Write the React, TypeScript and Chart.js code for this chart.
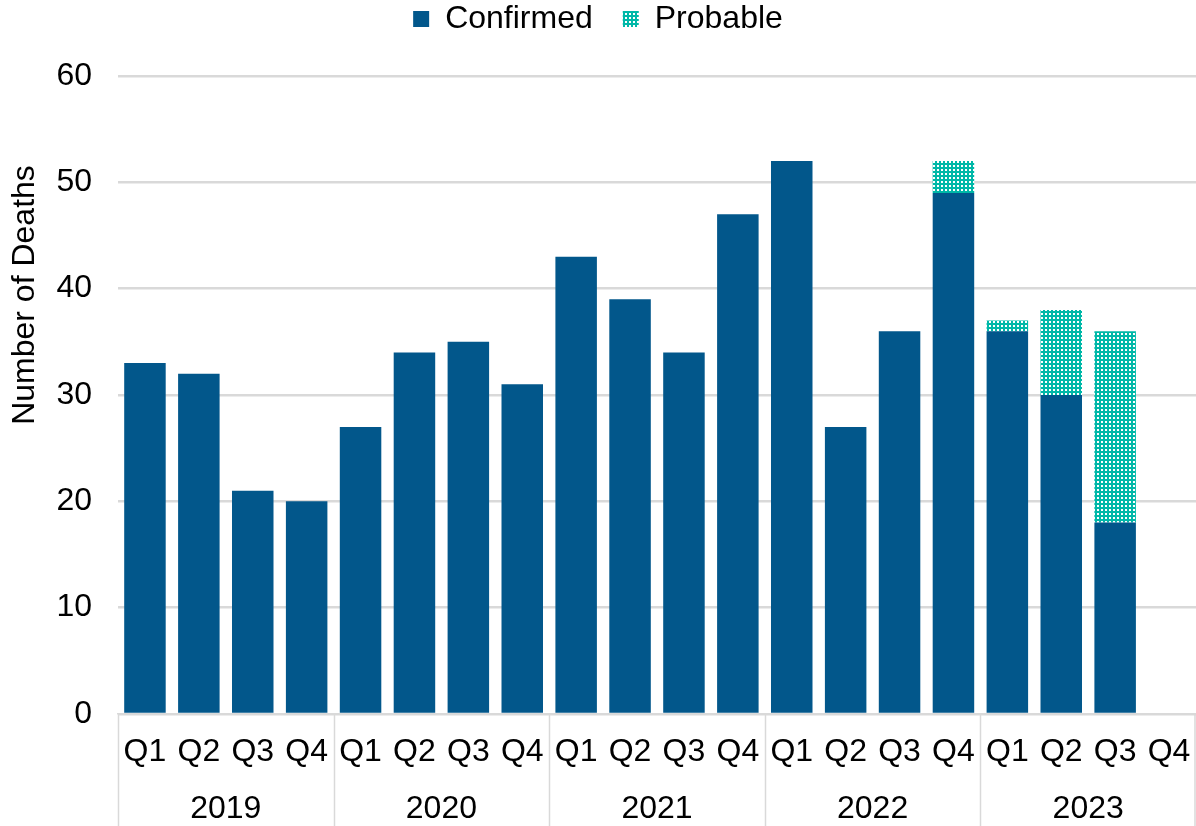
import React, { useEffect, useRef } from "react";
import { Chart, registerables } from "chart.js";

Chart.register(...registerables);

const quarters = ["Q1", "Q2", "Q3", "Q4", "Q1", "Q2", "Q3", "Q4", "Q1", "Q2", "Q3", "Q4", "Q1", "Q2", "Q3", "Q4", "Q1", "Q2", "Q3", "Q4"];
const years = ["2019", "2020", "2021", "2022", "2023"];
const confirmed = [33, 32, 21, 20, 27, 34, 35, 31, 43, 39, 34, 47, 52, 27, 36, 49, 36, 30, 18, null];
const probable = [0, 0, 0, 0, 0, 0, 0, 0, 0, 0, 0, 0, 0, 0, 0, 3, 1, 8, 18, null];
const yTicks = [0, 10, 20, 30, 40, 50, 60];

const FONT = "'Liberation Sans', Arial, sans-serif";
const BLUE = "#02578B";
const TEAL = "#00B8A8";
const GRID = "#D9D9D9";
const FS = 32;
const LEGEND_PAD = 30;

function makePattern(): CanvasPattern | string {
  const c = document.createElement("canvas");
  c.width = 4;
  c.height = 4;
  const ctx = c.getContext("2d");
  if (!ctx) return TEAL;
  ctx.fillStyle = TEAL;
  ctx.fillRect(0, 0, 4, 4);
  ctx.fillStyle = "#FFFFFF";
  ctx.fillRect(1, 1, 2, 2);
  const p = ctx.createPattern(c, "repeat");
  return p || TEAL;
}

const groupPlugin = {
  id: "groupPlugin",
  beforeLayout(chart: any) {
    const lg = chart.legend;
    if (lg && !lg.__patched) {
      const orig = lg.fit.bind(lg);
      lg.fit = () => {
        orig();
        lg.height = 76;
      };
      lg.__patched = true;
    }
  },
  afterLayout(chart: any) {
    const lg = chart.legend;
    if (lg) lg.top = 3 - LEGEND_PAD;
  },
  afterDraw(chart: any) {
    const { ctx, scales, chartArea } = chart;
    const x = scales.x;
    const bottom = chart.height;
    const step = (chartArea.right - chartArea.left) / quarters.length;
    ctx.save();
    ctx.strokeStyle = GRID;
    ctx.lineWidth = 1.5;
    for (let g = 0; g <= years.length; g++) {
      const px = Math.round(chartArea.left + g * 4 * step) + 0.5;
      const xx = Math.min(px, chart.width - 1);
      ctx.beginPath();
      ctx.moveTo(xx, chartArea.bottom);
      ctx.lineTo(xx, bottom);
      ctx.stroke();
    }
    ctx.fillStyle = "#000";
    ctx.font = `${FS}px ${FONT}`;
    ctx.textAlign = "center";
    ctx.textBaseline = "middle";
    years.forEach((yr, g) => {
      const cx = (x.getPixelForValue(g * 4 + 1) + x.getPixelForValue(g * 4 + 2)) / 2;
      ctx.fillText(yr, cx, 809);
    });
    ctx.translate(25, 295);
    ctx.rotate(-Math.PI / 2);
    ctx.font = `${FS}px ${FONT}`;
    ctx.fillText("Number of Deaths", 0, 0);
    ctx.restore();
  },
};

export default function App() {
  const ref = useRef<HTMLCanvasElement>(null);
  useEffect(() => {
    if (!ref.current) return;
    const pattern = makePattern();
    const chart = new Chart(ref.current, {
      type: "bar",
      data: {
        labels: quarters,
        datasets: [
          {
            label: "Confirmed",
            data: confirmed as any,
            backgroundColor: BLUE,
            borderWidth: 0,
            barPercentage: 0.77,
            categoryPercentage: 1,
          },
          {
            label: "Probable",
            data: probable as any,
            backgroundColor: pattern as any,
            borderWidth: 0,
            barPercentage: 0.77,
            categoryPercentage: 1,
          },
        ],
      },
      options: {
        responsive: false,
        animation: false,
        maintainAspectRatio: false,
        layout: { padding: { left: 0, right: 0, top: 0, bottom: 0 } },
        plugins: {
          legend: {
            position: "top",
            labels: {
              font: { family: FONT, size: FS },
              color: "#000",
              boxWidth: 16,
              boxHeight: 16,
              padding: LEGEND_PAD,
            },
          },
          tooltip: { enabled: false },
        },
        scales: {
          x: {
            stacked: true,
            grid: { display: false, drawTicks: false },
            border: { display: true, color: GRID, width: 1.5 },
            ticks: {
              font: { family: FONT, size: FS },
              color: "#000",
              padding: 19,
              maxRotation: 0,
              autoSkip: false,
            },
            afterFit: (s: any) => {
              s.height = 112;
              s.paddingLeft = 0;
              s.paddingRight = 0;
            },
          },
          y: {
            stacked: true,
            min: 0,
            max: 60,
            afterBuildTicks: (axis: any) => {
              axis.ticks = yTicks.map((v) => ({ value: v }));
            },
            grid: { color: GRID, lineWidth: 2.5, drawTicks: false },
            border: { display: false },
            ticks: {
              font: { family: FONT, size: FS },
              color: "#000",
              padding: 26,
            },
            afterFit: (s: any) => {
              s.width = 118;
              s.paddingTop = 0;
              s.paddingBottom = 0;
            },
          },
        },
      },
      plugins: [groupPlugin],
    });
    return () => chart.destroy();
  }, []);
  return (
    <div style={{ position: "fixed", left: 0, top: 0, width: 1196, height: 826, background: "#fff" }}>
      <canvas ref={ref} width={1196} height={826} />
    </div>
  );
}
